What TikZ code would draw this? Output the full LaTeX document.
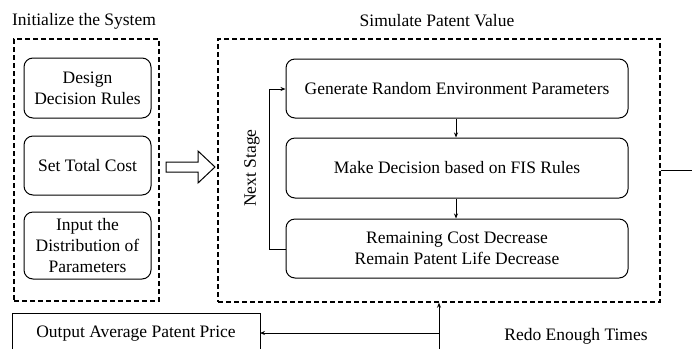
\documentclass[tikz,border=0pt]{standalone}
\usepackage{fontspec}
\setmainfont{Liberation Serif}
\usetikzlibrary{arrows.meta}
\begin{document}
\begin{tikzpicture}[x=1pt,y=-1pt,
  txt/.style={font=\fontsize{17.5}{21}\selectfont, align=center, inner sep=0pt},
  dbox/.style={draw, line width=1.4pt, dash pattern=on 5pt off 3pt},
  rbox/.style={draw, line width=1pt, rounded corners=9pt, txt},
  conn/.style={line width=0.9pt, -{Stealth[length=5pt,width=4pt]}},
  plain/.style={line width=0.9pt}]
\useasboundingbox (0,0) rectangle (692,349);
% titles
\node[txt] (t1) at (84,21) {Initialize the System};
\node[txt] (t2) at (437,21) {Simulate Patent Value};
% dashed containers
\node[dbox, minimum width=145pt, minimum height=262pt, inner sep=0pt] (left) at (86.5,170) {};
\node[dbox, minimum width=442pt, minimum height=263pt, inner sep=0pt] (right) at (439,170.5) {};
% left boxes
\node[rbox, minimum width=127pt, minimum height=60pt] (d1) at (87.5,88) {Design\\Decision Rules};
\node[rbox, minimum width=127pt, minimum height=59pt] (d2) at (87.5,165.5) {Set Total Cost};
\node[rbox, minimum width=127pt, minimum height=67pt] (d3) at (87.5,245.5) {Input the\\Distribution of\\Parameters};
% hollow arrow
\coordinate (ha) at (166,167);
\draw[line width=1pt, line join=miter] (ha) ++(0,-5) -- ++(32,0) -- ++(0,-11) -- ++(17,16) -- ++(-17,16) -- ++(0,-11) -- ++(-32,0) -- cycle;
% right boxes
\node[rbox, minimum width=342pt, minimum height=59pt] (b1) at (457,88.5) {Generate Random Environment Parameters};
\node[rbox, minimum width=342pt, minimum height=60pt] (b2) at (457,168) {Make Decision based on FIS Rules};
\node[rbox, minimum width=342pt, minimum height=59pt] (b3) at (457,248.5) {Remaining Cost Decrease\\Remain Patent Life Decrease};
\draw[conn] (b1.south -| 456,0) -- (b2.north -| 456,0);
\draw[conn] (b2.south -| 456,0) -- (b3.north -| 456,0);
\coordinate (fa) at (269,249);
\coordinate (fb) at (269,89);
\draw[conn] (b3.west |- fa) -- (fa) -- (fb) -- (b1.west |- fb);
\node[txt, rotate=90] (ns) at (252,168) {Next Stage};
% right exit line
\coordinate (ex) at (692,170);
\draw[plain] (right.east |- ex) -- (ex);
% bottom
\coordinate (vb) at (439,349);
\coordinate (vj) at (439,333);
\draw[conn] (vb) -- (right.south -| vb);
\coordinate (o1) at (12,349);
\coordinate (o2) at (12,313);
\coordinate (o3) at (260,313);
\coordinate (o4) at (260,349);
\draw[line width=1pt] (o1) -- (o2) -- (o3) -- (o4);
\node[txt] (out) at (136,334) {Output Average Patent Price};
\draw[conn] (vj) -- (o3 |- vj);
\node[txt] (redo) at (576,336) {Redo Enough Times};
\end{tikzpicture}
\end{document}
